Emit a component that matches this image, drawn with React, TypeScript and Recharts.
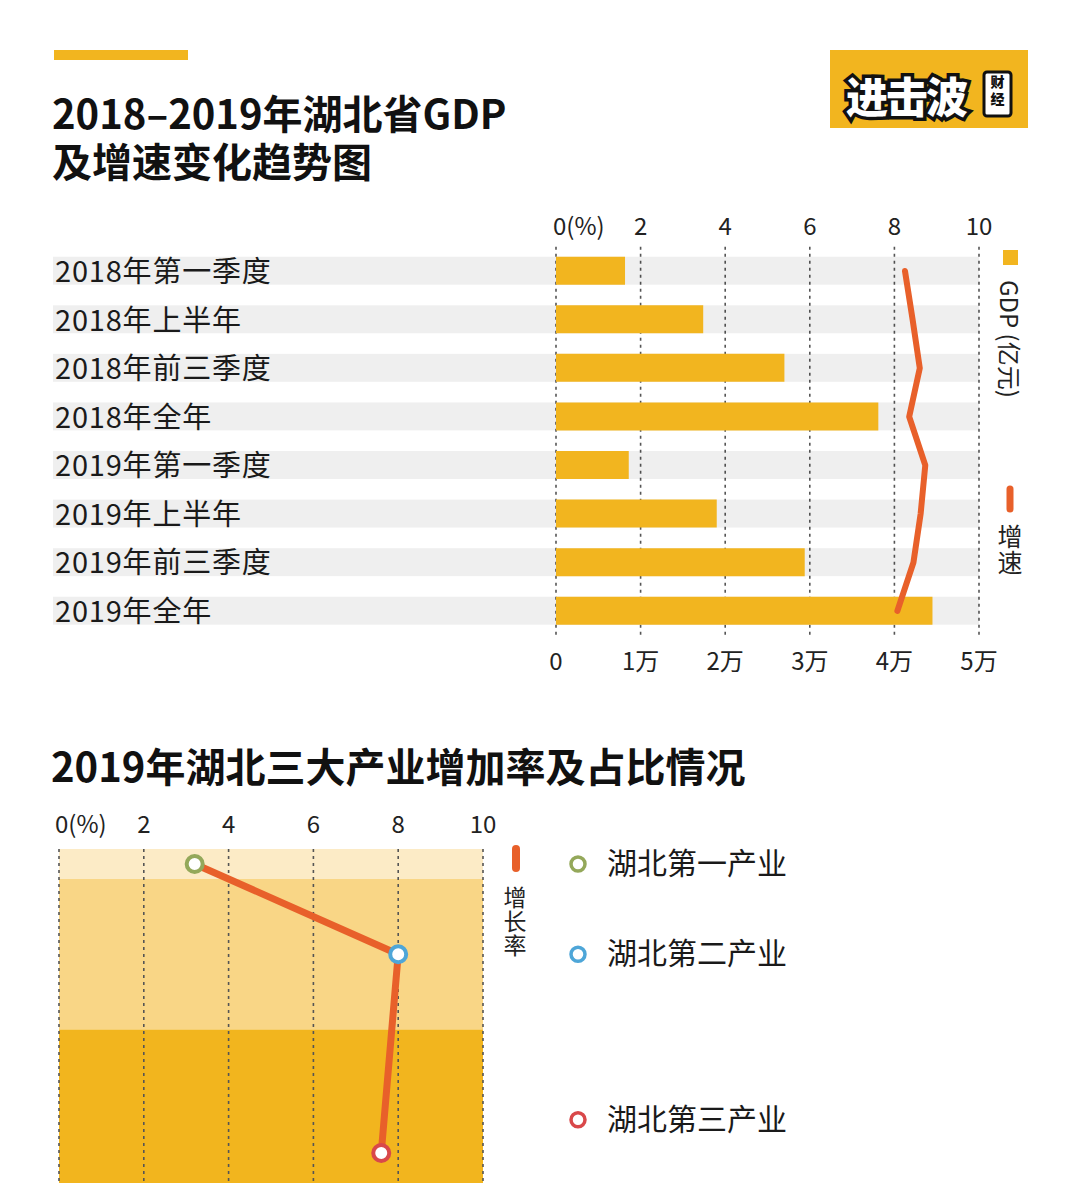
import React from 'react';
import {
  ComposedChart,
  Bar,
  Line,
  Scatter,
  XAxis,
  YAxis,
  CartesianGrid,
  ReferenceArea,
} from 'recharts';

// ---------- data ----------
const periods = [
  '2018年第一季度',
  '2018年上半年',
  '2018年前三季度',
  '2018年全年',
  '2019年第一季度',
  '2019年上半年',
  '2019年前三季度',
  '2019年全年',
];
const gdpYiYuan = [8160, 17400, 27000, 38100, 8600, 19000, 29400, 44500];
const growthPct = [8.25, 8.43, 8.6, 8.35, 8.73, 8.62, 8.45, 8.07];
const gdpTicks = [0, 10000, 20000, 30000, 40000, 50000];
const rateTicks = [0, 2, 4, 6, 8, 10];

const industries = ['湖北第一产业', '湖北第二产业', '湖北第三产业'];
const industryGrowth = [3.2, 8.0, 7.6];
const industryShare = [8.3, 41.7, 50.0];
const industryMarkAt = [4.15, 29.15, 84.2];

// ---------- style ----------
const FONT = '"Noto Sans CJK SC", "Noto Sans", sans-serif';
const YELLOW = '#f2b51f';
const ORANGE = '#e8602a';
const GRID = '#555555';
const industryColors = ['#94a85a', '#4ea6d8', '#d9484a'];
const bandColors = ['#fcebc6', '#f9d686', '#f2b51e'];
const BAND_LEFT = 53;
const LEGEND_X = 578;

const topData = periods.map((p, i) => ({ period: p, gdp: gdpYiYuan[i], rate: growthPct[i] }));
const industryData = industries.map((n, i) => ({ name: n, growth: industryGrowth[i], at: industryMarkAt[i] }));
const bands = industryShare.map((s, i) => {
  const start = industryShare.slice(0, i).reduce((a, b) => a + b, 0);
  return { name: industries[i], start, end: start + s };
});

const TopRateTick = (props: any) => {
  const { x, y, payload } = props;
  const v = payload.value;
  const zero = v === 0;
  return (
    <text x={zero ? x - 3 : x} y={y} dy={-4} textAnchor={zero ? 'start' : 'middle'} fontSize={24} fill="#222" fontFamily={FONT}>
      {zero ? '0(%)' : String(v)}
    </text>
  );
};

const BottomRateTick = (props: any) => {
  const { x, y, payload } = props;
  const v = payload.value;
  const zero = v === 0;
  return (
    <text x={zero ? x - 4 : x} y={y} dy={-8} textAnchor={zero ? 'start' : 'middle'} fontSize={24} fill="#222" fontFamily={FONT}>
      {zero ? '0(%)' : String(v)}
    </text>
  );
};

const GdpTick = (props: any) => {
  const { x, y, payload } = props;
  const v = payload.value;
  return (
    <text x={x} y={y} dy={27} textAnchor="middle" fontSize={24} fill="#222" fontFamily={FONT}>
      {v === 0 ? '0' : `${v / 10000}万`}
    </text>
  );
};

const PeriodTick = (props: any) => {
  const { y, payload } = props;
  return (
    <text x={BAND_LEFT + 2} y={y} dy={11} textAnchor="start" fontSize={29} letterSpacing={0.8} fill="#1a1a1a" fontFamily={FONT}>
      {payload.value}
    </text>
  );
};

const BandBackground = (props: any) => {
  const { x, y, width, height } = props;
  return <rect x={BAND_LEFT} y={y} width={x + width - BAND_LEFT} height={height} fill="rgba(0,0,0,0.062)" />;
};

const IndustryDot = (props: any) => {
  const { cx, cy, payload } = props;
  const idx = industries.indexOf(payload.name);
  return <circle cx={cx} cy={cy} r={8} fill="#fff" stroke={industryColors[idx]} strokeWidth={4} />;
};

const bandLegend = (i: number) => (props: any) => {
  const vb = props.viewBox || {};
  const cy = vb.y + vb.height / 2;
  return (
    <g>
      <circle cx={LEGEND_X} cy={cy} r={7} fill="#fff" stroke={industryColors[i]} strokeWidth={3.5} />
      <text x={LEGEND_X + 29} y={cy} dy={10} fontSize={30} fill="#1a1a1a" fontFamily={FONT}>
        {industries[i]}
      </text>
    </g>
  );
};

const vertical: React.CSSProperties = { writingMode: 'vertical-rl' as any };

function Decorations() {
  return (
    <svg width={1081} height={1183} style={{ position: 'absolute', left: 0, top: 0, pointerEvents: 'none' }}>
      <rect x={54} y={50} width={134} height={10} fill={YELLOW} />
      <text fontSize={40} fontWeight={700} fill="#111" fontFamily={FONT}>
        <tspan x={52} y={129}>2018–2019年湖北省GDP</tspan>
        <tspan x={52} y={177}>及增速变化趋势图</tspan>
      </text>
      {/* logo */}
      <rect x={830} y={50} width={198} height={78} fill={YELLOW} />
      <text x={846} y={113} fontSize={42} fontWeight={900} fill="#fff" stroke="#111" strokeWidth={7} paintOrder="stroke" fontFamily={FONT} letterSpacing={-2}>进击波</text>
      <rect x={984} y={72} width={27} height={44} rx={3} fill="#fff" stroke="#111" strokeWidth={3} />
      <text x={997.5} y={75} fontSize={14} fontWeight={900} fill="#111" fontFamily={FONT} style={vertical} letterSpacing={3}>财经</text>
      {/* top legend */}
      <rect x={1003} y={250} width={15} height={15} fill={YELLOW} />
      <text x={1010} y={280} transform="rotate(90 1010 280)" fontSize={24} fill="#222" dominantBaseline="central" fontFamily={FONT}>GDP (亿元)</text>
      <line x1={1010} y1={489} x2={1010} y2={509} stroke={ORANGE} strokeWidth={7} strokeLinecap="round" />
      <text x={1010} y={524} fontSize={25} fill="#222" fontFamily={FONT} style={vertical} letterSpacing={1}>增速</text>
      {/* bottom title */}
      <text x={51} y={782} fontSize={40} fontWeight={700} fill="#111" fontFamily={FONT}>2019年湖北三大产业增加率及占比情况</text>
      {/* bottom legend: growth */}
      <line x1={516} y1={849} x2={516} y2={868} stroke={ORANGE} strokeWidth={8} strokeLinecap="round" />
      <text x={515} y={886} fontSize={23} fill="#222" fontFamily={FONT} style={vertical} letterSpacing={1}>增长率</text>
    </svg>
  );
}

export default function App() {
  return (
    <div style={{ position: 'absolute', left: 0, top: 0, width: 1081, height: 1183, overflow: 'hidden', background: '#fff', fontFamily: FONT }}>
      <div style={{ position: 'absolute', left: 0, top: 0 }}>
        <ComposedChart
          width={1081}
          height={700}
          data={topData}
          layout="vertical"
          margin={{ top: 216.7, right: 102, bottom: 24.7, left: 0 }}
        >
          <CartesianGrid xAxisId="rate" horizontal={false} vertical stroke={GRID} strokeWidth={1.6} strokeDasharray="3 4" />
          <XAxis xAxisId="rate" orientation="top" type="number" domain={[0, 10]} ticks={rateTicks} height={30} axisLine={false} tickLine={false} tick={TopRateTick} interval={0} />
          <XAxis xAxisId="gdp" orientation="bottom" type="number" domain={[0, 50000]} ticks={gdpTicks} height={40} axisLine={false} tickLine={false} tick={GdpTick} interval={0} />
          <YAxis type="category" dataKey="period" width={556} axisLine={false} tickLine={false} tick={PeriodTick} interval={0} />
          <Bar xAxisId="gdp" dataKey="gdp" barSize={28} fill={YELLOW} background={BandBackground} isAnimationActive={false} />
          <Line xAxisId="rate" dataKey="rate" type="linear" stroke={ORANGE} strokeWidth={6} strokeLinecap="round" strokeLinejoin="round" dot={false} isAnimationActive={false} />
        </ComposedChart>
      </div>
      <div style={{ position: 'absolute', left: 0, top: 780 }}>
        <ComposedChart
          width={1081}
          height={460}
          data={industryData}
          margin={{ top: 39, right: 598, bottom: 30, left: 59 }}
        >
          <XAxis xAxisId={0} orientation="top" type="number" dataKey="growth" domain={[0, 10]} ticks={rateTicks} height={30} axisLine={false} tickLine={false} tick={BottomRateTick} interval={0} />
          <YAxis yAxisId={0} type="number" dataKey="at" domain={[0, 100]} reversed hide />
          {bands.map((b, i) => (
            <ReferenceArea key={b.name} x1={0} x2={10} y1={b.start} y2={b.end} fill={bandColors[i]} fillOpacity={1} stroke="none" label={bandLegend(i)} zIndex={50} />
          ))}
          <CartesianGrid horizontal={false} vertical stroke={GRID} strokeWidth={1.6} strokeDasharray="3 4" zIndex={150} />
          <Scatter
            data={industryData}
            dataKey="growth"
            line={{ stroke: ORANGE, strokeWidth: 7, strokeLinecap: 'round' }}
            lineType="joint"
            shape={IndustryDot}
            isAnimationActive={false}
          />
        </ComposedChart>
      </div>
      <Decorations />
    </div>
  );
}
